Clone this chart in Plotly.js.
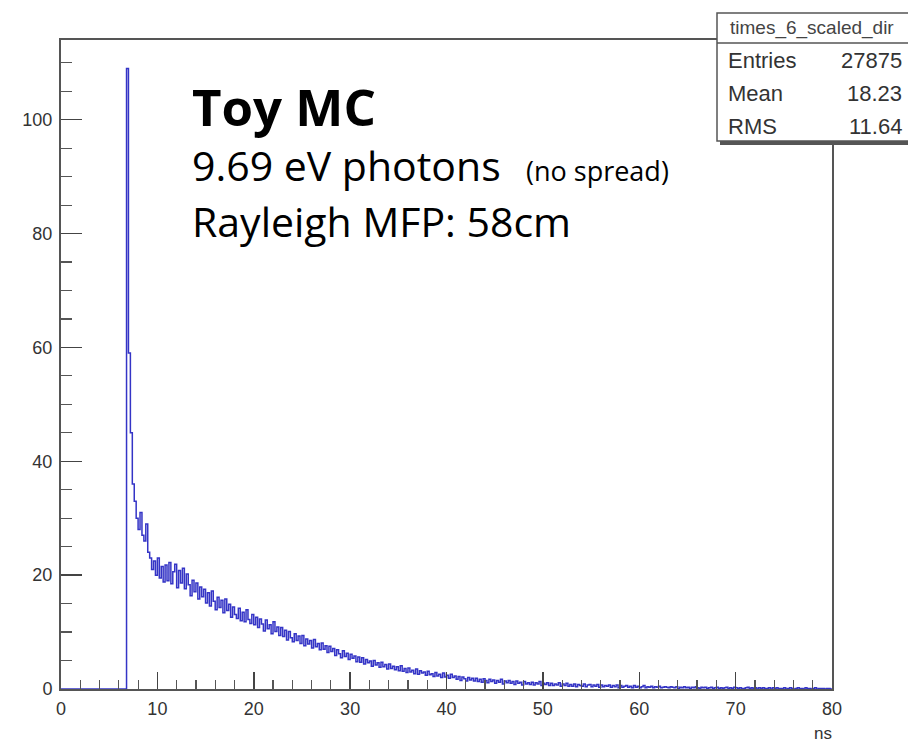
<!DOCTYPE html>
<html>
<head>
<meta charset="utf-8">
<script src="https://cdn.plot.ly/plotly-3.0.1.min.js"></script>
<style>html,body{margin:0;padding:0;background:#fff;}#chart{width:908px;height:742px;}</style>
</head>
<body>
<div id="chart"></div>
<script>
// Histogram: times_6_scaled_dir, bins of 0.2 ns from 0 to 80 ns
const binStart = 0;
const binWidth = 0.2;
const countsBefore = [0,0,0,0,0,0,0,0,0,0, 0,0,0,0,0,0,0,0,0,0, 0,0,0,0,0,0,0,0,0,0, 0,0,0,0];
const countsRise = [
  109, 59, 45, 36, 33, 30, 28, 31, 27, 26,
  29, 24, 23, 21, 22.5, 20, 23, 19.5, 21.5, 18.8,
  21.8, 19, 22.2, 18.5, 20.6, 21.9, 17.8, 20.8, 18.6, 21.2,
  17.6, 20.2, 18.3, 16.4, 19.1, 17.1, 18.6, 15.8, 17.9, 16.2,
  17.5, 15.1, 16.9, 14.6, 17.2, 15.4, 13.9, 16.1, 14.3, 15.6,
  13.4, 15.8, 13.8, 14.9, 12.6, 14.4, 13.1, 12.4, 14.2, 12.0,
  13.5, 11.8, 13.9, 12.2, 11.5, 13.1, 11.3, 12.6, 10.8, 12.3
];
const countsMid = [
  11.4, 10.2, 12.1, 10.6, 11.3, 9.7, 11.8, 10.1, 10.9, 9.4,
  10.8, 9.2, 10.3, 8.6, 10.1, 9.0, 8.3, 9.7, 8.5, 9.3,
  8.0, 9.4, 7.6, 8.8, 7.9, 8.5, 7.2, 8.7, 7.4, 8.0,
  6.9, 8.1, 7.0, 7.6, 6.4, 7.5, 6.6, 7.1, 5.9, 6.9,
  6.2, 5.5, 6.7, 5.7, 6.3, 5.2, 6.1, 5.4, 5.8, 4.8,
  5.6, 4.7, 5.5, 4.4, 5.2, 4.6, 4.9, 4.0, 5.0, 4.2,
  4.6, 3.8, 4.7, 3.9, 4.3, 3.5, 4.4, 3.6, 4.0, 3.4,
  3.9, 3.2, 4.1, 3.1, 3.6, 2.9, 3.7, 3.0, 3.3, 2.7,
  3.5, 2.6, 3.2, 2.8, 3.0, 2.4, 3.1, 2.5, 2.7, 2.2,
  2.9, 2.3, 2.6, 2.0, 2.8, 2.1, 2.4, 1.9, 2.6, 2.0
];
const countsTail = [
  2.3, 1.7, 2.2, 1.5, 2.1, 1.8, 1.4, 2.0, 1.6, 1.9,
  1.4, 1.9, 1.3, 1.7, 1.2, 1.8, 1.5, 1.1, 1.7, 1.3,
  1.6, 1.0, 1.5, 1.2, 1.7, 0.9, 1.4, 1.1, 1.5, 1.0,
  1.3, 0.8, 1.4, 1.0, 1.2, 0.7, 1.3, 0.9, 1.1, 0.8,
  1.2, 0.7, 1.1, 0.9, 1.3, 0.6, 1.0, 0.8, 1.1, 0.6,
  1.0, 0.6, 0.9, 0.7, 1.1, 0.5, 0.9, 0.6, 1.0, 0.5,
  0.8, 0.5, 0.9, 0.4, 0.8, 0.6, 0.5, 0.9, 0.4, 0.7,
  0.8, 0.4, 0.7, 0.5, 0.8, 0.3, 0.7, 0.4, 0.6, 0.5,
  0.7, 0.3, 0.6, 0.4, 0.7, 0.2, 0.6, 0.3, 0.5, 0.6,
  0.3, 0.5, 0.2, 0.6, 0.3, 0.5, 0.2, 0.4, 0.6, 0.2
];
const countsEnd = [
  0.4, 0.3, 0.5, 0.2, 0.4, 0.3, 0.5, 0.2, 0.3, 0.4,
  0.3, 0.2, 0.4, 0.3, 0.2, 0.4, 0.1, 0.3, 0.2, 0.4,
  0.2, 0.3, 0.1, 0.3, 0.2, 0.4, 0.2, 0.1, 0.3, 0.2,
  0.3, 0.1, 0.2, 0.3, 0.1, 0.2, 0.3, 0.1, 0.2, 0.1,
  0.2, 0.3, 0.1, 0.2, 0.1, 0.3, 0.2, 0.1, 0.2, 0.1,
  0.1, 0.2, 0.3, 0.1, 0.2, 0.1, 0.2, 0, 0.2, 0.1,
  0.2, 0.1, 0.1, 0.2, 0, 0.2, 0.1, 0.2, 0.1, 0.1,
  0.1, 0.2, 0, 0.1, 0.2, 0.1, 0, 0.1, 0.2, 0.1,
  0.1, 0, 0.2, 0.1, 0.1, 0, 0.1, 0.2, 0, 0.1,
  0.1, 0.1, 0, 0.1, 0.1, 0
];
const xTickLabels = ['0','10','20','30','40','50','60','70','80'];
const yTickLabels = ['0','20','40','60','80','100'];
const statsTitle = 'times_6_scaled_dir';
const statsNames = ['Entries', 'Mean', 'RMS'];
const statsValues = ['27875', '18.23', '11.64'];

const counts = [].concat(countsBefore, countsRise, countsMid, countsTail, countsEnd);
const xs = [], ys = [];
counts.forEach((c, i) => { xs.push(binStart + i * binWidth); ys.push(c); });
xs.push(binStart + counts.length * binWidth); ys.push(counts[counts.length - 1]);

const trace = {
  x: xs, y: ys, type: 'scatter', mode: 'lines',
  line: {shape: 'hv', color: '#3434c6', width: 1.5},
  hoverinfo: 'skip'
};

// plot area in pixels: left 61, right 832, top 40, bottom 689
const L = 61, R = 832, T = 40, B = 689;
const px = v => (v - L) / (R - L);
const py = v => (B - v) / (B - T);

const axisFont = {family: 'Liberation Sans, Arial, sans-serif', size: 18, color: '#333'};
const layout = {
  width: 908, height: 742,
  margin: {l: L, r: 908 - R, t: T, b: 742 - B, pad: 0},
  paper_bgcolor: '#fff', plot_bgcolor: '#fff',
  showlegend: false,
  xaxis: {
    range: [0, 80], tickmode: 'array',
    tickvals: xTickLabels.map(Number), ticktext: xTickLabels,
    ticks: 'inside', ticklen: 17, tickwidth: 1.5, tickcolor: '#444',
    minor: {ticks: 'inside', dtick: 2, ticklen: 9, tickwidth: 1.2, tickcolor: '#555'},
    showgrid: false, zeroline: false,
    showline: true, linecolor: '#555', linewidth: 2, mirror: true,
    tickfont: axisFont, ticklabelstandoff: 2
  },
  yaxis: {
    range: [0, 114], tickmode: 'array',
    tickvals: yTickLabels.map(Number), ticktext: yTickLabels,
    ticks: 'inside', ticklen: 21, tickwidth: 1.5, tickcolor: '#444',
    minor: {ticks: 'inside', dtick: 5, ticklen: 11, tickwidth: 1.2, tickcolor: '#555'},
    showgrid: false, zeroline: false,
    showline: true, linecolor: '#555', linewidth: 2, mirror: true,
    tickfont: axisFont, ticklabelstandoff: 3
  },
  shapes: [
    {type: 'rect', xref: 'paper', yref: 'paper', x0: px(720), x1: px(912), y0: py(145), y1: py(17),
     fillcolor: '#555', line: {width: 0}, layer: 'above'},
    {type: 'rect', xref: 'paper', yref: 'paper', x0: px(717), x1: px(912), y0: py(141), y1: py(13),
     fillcolor: '#fff', line: {color: '#555', width: 1.5}, layer: 'above'},
    {type: 'line', xref: 'paper', yref: 'paper', x0: px(717), x1: px(912), y0: py(43), y1: py(43),
     line: {color: '#555', width: 1.5}, layer: 'above'}
  ],
  annotations: []
};

const ann = layout.annotations;
const sansFont = 'Liberation Sans, Arial, sans-serif';
ann.push({xref: 'paper', yref: 'paper', x: px(812), y: py(28), text: statsTitle, showarrow: false,
  xanchor: 'center', yanchor: 'middle', font: {family: sansFont, size: 19, color: '#444'}});
const rowY = [61, 94, 126];
statsNames.forEach((n, i) => {
  ann.push({xref: 'paper', yref: 'paper', x: px(726), y: py(rowY[i]), text: n, showarrow: false,
    xanchor: 'left', yanchor: 'middle', font: {family: sansFont, size: 22, color: '#333'}});
  ann.push({xref: 'paper', yref: 'paper', x: px(904), y: py(rowY[i]), text: statsValues[i], showarrow: false,
    xanchor: 'right', yanchor: 'middle', font: {family: sansFont, size: 22, color: '#333'}});
});
const txtFont = 'Open Sans, Noto Sans, sans-serif';
ann.push({xref: 'paper', yref: 'paper', x: px(190), y: py(106), text: '<b>Toy MC</b>', showarrow: false,
  xanchor: 'left', yanchor: 'middle', font: {family: txtFont, size: 51, color: '#000'}});
ann.push({xref: 'paper', yref: 'paper', x: px(190), y: py(165), text: '9.69 eV photons', showarrow: false,
  xanchor: 'left', yanchor: 'middle', font: {family: txtFont, size: 41, color: '#000'}});
ann.push({xref: 'paper', yref: 'paper', x: px(524), y: py(170), text: '(no spread)', showarrow: false,
  xanchor: 'left', yanchor: 'middle', font: {family: txtFont, size: 27, color: '#000'}});
ann.push({xref: 'paper', yref: 'paper', x: px(190), y: py(221), text: 'Rayleigh MFP: 58cm', showarrow: false,
  xanchor: 'left', yanchor: 'middle', font: {family: txtFont, size: 41, color: '#000'}});
ann.push({xref: 'paper', yref: 'paper', x: px(823), y: py(733), text: 'ns', showarrow: false,
  xanchor: 'center', yanchor: 'middle', font: {family: sansFont, size: 17, color: '#333'}});

Plotly.newPlot('chart', [trace], layout, {staticPlot: true, displayModeBar: false});
</script>
</body>
</html>
